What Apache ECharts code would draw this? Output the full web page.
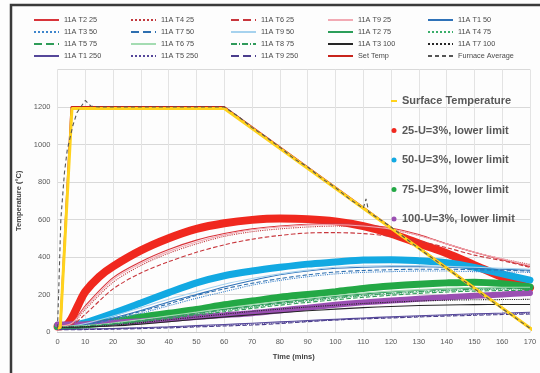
<!DOCTYPE html>
<html>
<head>
<meta charset="utf-8">
<script src="https://cdn.jsdelivr.net/npm/echarts@6/dist/echarts.min.js"></script>
<style>
  html, body { margin: 0; padding: 0; background: #fff; }
  #main { width: 540px; height: 373px; }
</style>
</head>
<body>
<div id="main"></div>
<script>
// sample times (mins) used by the thermocouple curves
const times = [0, 5, 10, 20, 30, 40, 50, 60, 70, 80, 90, 100, 110, 120, 130, 140, 150, 160, 170];

// thick "lower limit" curves (25 mm one has extra early samples)
const u25T = [0, 3, 5, 7.5, 10, 15, 20, 30, 40, 50, 60, 70, 80, 90, 100, 110, 120, 130, 140, 150, 160, 170];
const u25 = [30, 35, 70, 145, 215, 295, 350, 435, 500, 550, 580, 598, 605, 602, 590, 565, 525, 472, 420, 357, 293, 235];
const u50 = [30, 35, 50, 100, 155, 210, 262, 300, 325, 345, 362, 373, 384, 386, 380, 370, 345, 310, 277];
const u75 = [30, 32, 38, 55, 80, 100, 120, 145, 165, 185, 200, 215, 232, 245, 255, 262, 266, 258, 240];
const u100 = [40, 40, 42, 50, 58, 68, 80, 90, 100, 115, 130, 145, 158, 168, 177, 185, 193, 200, 208];

// thermocouples
const t2_25 = [30, 45, 140, 290, 375, 440, 490, 525, 550, 565, 575, 578, 572, 555, 520, 470, 425, 385, 350];
const t4_25 = [28, 40, 120, 265, 355, 420, 470, 510, 535, 550, 560, 565, 560, 545, 515, 470, 425, 390, 360];
const t6_25 = [25, 35, 95, 230, 315, 375, 425, 465, 495, 515, 528, 530, 525, 510, 485, 450, 410, 380, 345];
const t9_25 = [30, 45, 130, 280, 365, 430, 480, 518, 545, 560, 570, 572, 565, 548, 515, 470, 425, 390, 355];
const t1_50 = [28, 30, 40, 75, 115, 160, 200, 240, 275, 305, 325, 340, 345, 348, 348, 345, 340, 335, 330];
const t3_50 = [25, 28, 35, 65, 100, 140, 180, 215, 250, 275, 295, 310, 318, 322, 325, 325, 322, 320, 318];
const t7_50 = [25, 28, 36, 70, 110, 150, 195, 230, 260, 285, 305, 320, 328, 332, 335, 335, 332, 330, 325];
const t9_50 = [28, 32, 45, 85, 130, 175, 215, 255, 285, 310, 330, 345, 352, 355, 355, 350, 345, 340, 335];
const t2_75 = [28, 30, 33, 45, 62, 82, 102, 122, 140, 158, 175, 190, 203, 214, 223, 230, 234, 236, 236];
const t4_75 = [26, 28, 31, 42, 57, 75, 95, 114, 132, 150, 166, 180, 193, 204, 213, 220, 225, 228, 229];
const t5_75 = [25, 27, 30, 40, 55, 72, 90, 108, 126, 143, 158, 172, 185, 196, 206, 213, 218, 221, 222];
const t6_75 = [28, 30, 34, 48, 66, 86, 106, 127, 146, 164, 180, 195, 208, 218, 226, 233, 237, 239, 239];
const t8_75 = [26, 28, 32, 44, 60, 78, 98, 118, 136, 153, 169, 183, 196, 207, 216, 223, 228, 231, 232];
const t3_100 = [25, 25, 27, 32, 42, 55, 68, 80, 92, 103, 113, 122, 130, 136, 141, 144, 146, 147, 147];
const t7_100 = [25, 26, 28, 36, 50, 65, 80, 95, 110, 122, 133, 143, 152, 159, 165, 169, 172, 173, 174];
const t1_250 = [15, 15, 16, 19, 23, 28, 34, 40, 47, 54, 61, 68, 75, 81, 87, 92, 97, 101, 105];
const t5_250 = [14, 14, 15, 17, 21, 25, 30, 36, 42, 49, 57, 64, 71, 77, 83, 88, 93, 97, 100];
const t9_250 = [12, 12, 13, 15, 18, 22, 27, 32, 37, 45, 55, 64, 70, 75, 80, 85, 89, 93, 96];

// set temperature, surface temperature and furnace average
const setT = [0, 1, 5, 60, 172];
const setV = [20, 20, 1200, 1200, 0];
const surfT = [0, 1, 5.2, 60, 172];
const surfV = [20, 25, 1192, 1192, 0];
const furnT = [0, 0.5, 1.2, 2.5, 3.5, 5.5, 7, 10, 12, 15, 60, 65, 70, 75, 80, 85, 90, 95, 100, 105, 110, 111, 112, 115, 120, 130, 140, 150, 160, 170];
const furnV = [20, 250, 600, 850, 970, 1100, 1170, 1235, 1205, 1200, 1200, 1150, 1090, 1040, 985, 925, 880, 820, 770, 710, 660, 710, 640, 610, 560, 445, 340, 230, 125, 20];

const yTicks = [0, 200, 400, 600, 800, 1000, 1200];

const FONT = "'Liberation Sans', Arial, sans-serif";

function pairs(xs, ys) {
  return xs.map((x, i) => [x, ys[i]]);
}

function thin(name, values, color, type, width) {
  return {
    name: name,
    type: 'line',
    data: pairs(times, values),
    smooth: 0.3,
    symbol: 'none',
    color: color,
    lineStyle: { color: color, width: width || 1.1, type: type || 'solid' },
    z: 3
  };
}

function thick(name, xs, values, color, width) {
  return {
    name: name,
    type: 'line',
    data: pairs(xs, values),
    smooth: 0.3,
    symbol: 'none',
    color: color,
    lineStyle: { color: color, width: width, cap: 'round' },
    z: 2
  };
}

const series = [
  thick('25-U=3%, lower limit', u25T, u25, '#f0281e', 8),
  thick('50-U=3%, lower limit', times, u50, '#12a9e2', 7),
  thick('75-U=3%, lower limit', times, u75, '#23a845', 7),
  thick('100-U=3%, lower limit', times, u100, '#9a4fb2', 6),

  thin('11A T2 25', t2_25, '#d8343a'),
  thin('11A T4 25', t4_25, '#c23a3f', 'dotted'),
  thin('11A T6 25', t6_25, '#c8363c', 'dashed'),
  thin('11A T9 25', t9_25, '#f2aab4'),
  thin('11A T1 50', t1_50, '#2f72b8'),
  thin('11A T3 50', t3_50, '#3f86cc', 'dotted'),
  thin('11A T7 50', t7_50, '#2e6fb0', 'dashed'),
  thin('11A T9 50', t9_50, '#a6d2ee'),
  thin('11A T2 75', t2_75, '#2c9e5a'),
  thin('11A T4 75', t4_75, '#3aae6a', 'dotted'),
  thin('11A T5 75', t5_75, '#2f9c58', 'dashed'),
  thin('11A T6 75', t6_75, '#a4dcb2'),
  thin('11A T8 75', t8_75, '#2f9a5a', [6, 2, 1, 2]),
  thin('11A T3 100', t3_100, '#262626'),
  thin('11A T7 100', t7_100, '#262626', 'dotted'),
  thin('11A T1 250', t1_250, '#55479a'),
  thin('11A T5 250', t5_250, '#55479a', 'dotted'),
  thin('11A T9 250', t9_250, '#4a3d8c', 'dashed'),

  {
    name: 'Set Temp', type: 'line', data: pairs(setT, setV), symbol: 'none',
    color: '#c8241c', lineStyle: { color: '#c8241c', width: 2 }, z: 4
  },
  {
    name: 'Surface Temperature', type: 'line', data: pairs(surfT, surfV), symbol: 'none',
    color: '#ffd21c', lineStyle: { color: '#ffd21c', width: 3 }, z: 5
  },
  {
    name: 'Furnace Average', type: 'line', data: pairs(furnT, furnV), symbol: 'none',
    color: '#555', lineStyle: { color: '#555', width: 1.1, type: [4, 3] }, z: 6
  }
];

const legendCols = [
  ['11A T2 25', '11A T3 50', '11A T5 75', '11A T1 250'],
  ['11A T4 25', '11A T7 50', '11A T6 75', '11A T5 250'],
  ['11A T6 25', '11A T9 50', '11A T8 75', '11A T9 250'],
  ['11A T9 25', '11A T2 75', '11A T3 100', 'Set Temp'],
  ['11A T1 50', '11A T4 75', '11A T7 100', 'Furnace Average']
];
const legendLeft = [33, 130, 230, 327, 427];

const legends = legendCols.map((names, i) => ({
  data: names,
  orient: 'vertical',
  left: legendLeft[i],
  top: 14,
  padding: 0,
  itemWidth: 25,
  itemHeight: 2,
  itemGap: 0,
  itemTextGap: 3,
  selectedMode: false,
  itemStyle: { opacity: 0 },
  textStyle: { fontFamily: FONT, fontSize: 7.3, color: '#4a4a4a', lineHeight: 12 }
}));

legends.push({
  data: [
    { name: 'Surface Temperature', itemStyle: { opacity: 0 } },
    { name: '25-U=3%, lower limit', icon: 'circle' },
    { name: '50-U=3%, lower limit', icon: 'circle' },
    { name: '75-U=3%, lower limit', icon: 'circle' },
    { name: '100-U=3%, lower limit', icon: 'circle' }
  ],
  orient: 'vertical',
  left: 385,
  top: 89,
  itemWidth: 6,
  itemHeight: 5,
  itemGap: 15.5,
  itemTextGap: 2,
  selectedMode: false,
  textStyle: { fontFamily: FONT, fontSize: 11, fontWeight: 'bold', color: '#585858', lineHeight: 14 }
});

const chart = echarts.init(document.getElementById('main'), null, { renderer: 'canvas' });
chart.setOption({
  animation: false,
  backgroundColor: '#fdfdfd',
  legend: legends,
  grid: { left: 57.5, right: 10, top: 69.5, bottom: 41 },
  xAxis: {
    type: 'value',
    min: 0,
    max: 170,
    interval: 10,
    name: 'Time (mins)',
    nameLocation: 'middle',
    nameGap: 21,
    nameTextStyle: { fontFamily: FONT, fontSize: 7.5, fontWeight: 'bold', color: '#404040' },
    axisLine: { lineStyle: { color: '#c8c8c8' } },
    axisTick: { show: false },
    axisLabel: { fontFamily: FONT, fontSize: 7.5, color: '#595959', margin: 6 },
    splitLine: { show: true, lineStyle: { color: '#e3e3e3', width: 1 } }
  },
  yAxis: {
    type: 'value',
    min: 0,
    max: 1400,
    interval: 200,
    name: 'Temperature (°C)',
    nameLocation: 'middle',
    nameGap: 26,
    nameTextStyle: { fontFamily: FONT, fontSize: 7.5, fontWeight: 'bold', color: '#404040' },
    axisLine: { show: false },
    axisTick: { show: false },
    axisLabel: {
      fontFamily: FONT, fontSize: 7.5, color: '#595959', margin: 7,
      formatter: v => (yTicks.indexOf(v) >= 0 ? String(v) : '')
    },
    splitLine: { show: true, lineStyle: { color: '#d9d9d9', width: 1 } }
  },
  graphic: [{
    type: 'rect',
    shape: { x: 11, y: 5, width: 545, height: 385 },
    style: { fill: 'none', stroke: '#3a3a3a', lineWidth: 2.5 },
    z: 100
  }],
  series: series
});
</script>
</body>
</html>
